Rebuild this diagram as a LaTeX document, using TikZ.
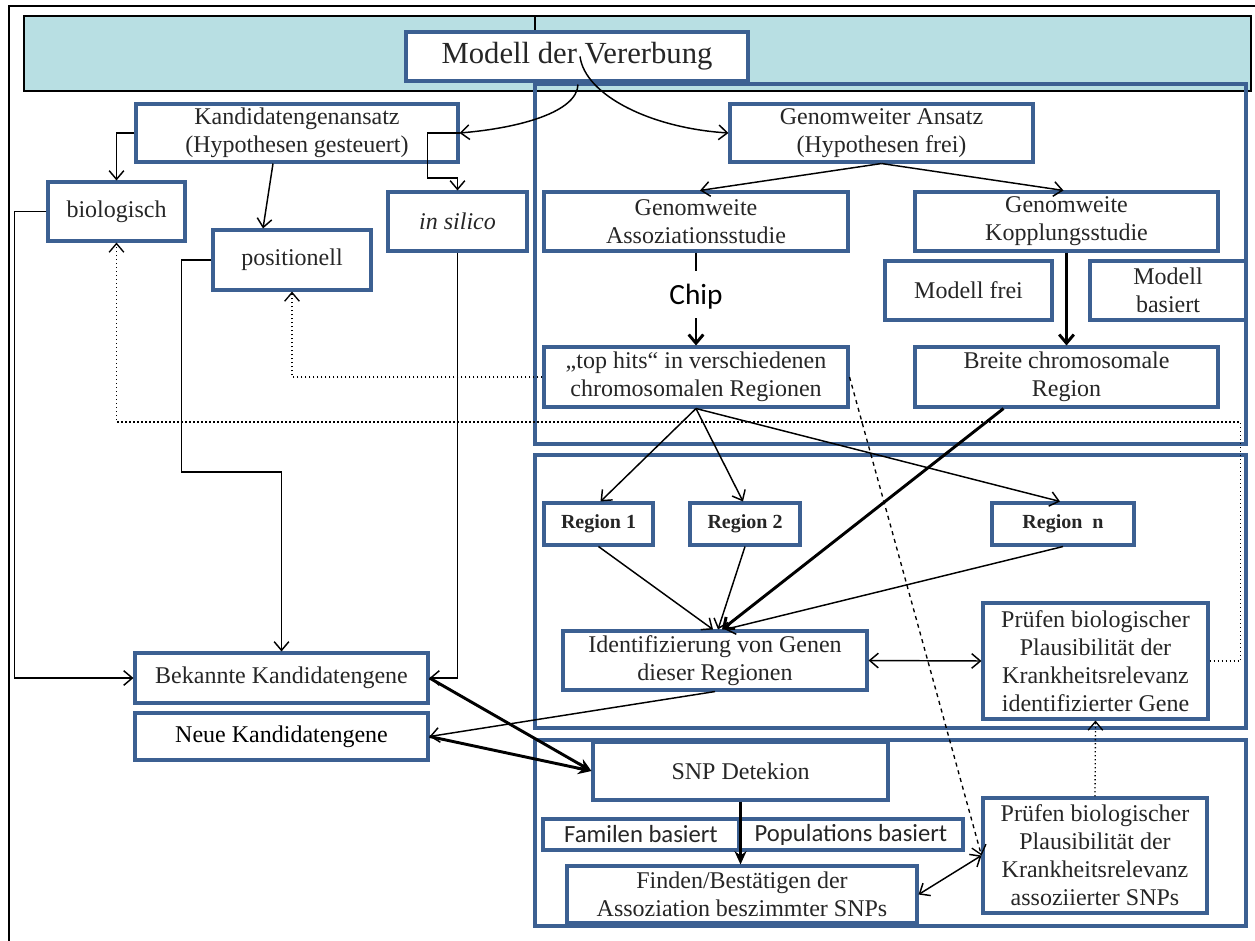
\documentclass[tikz,border=0pt]{standalone}
\usepackage{fontspec}
\setmainfont{Liberation Serif}
\newfontfamily\calibfont{Carlito}
\usetikzlibrary{arrows.meta,calc}
\definecolor{boxblue}{RGB}{60,96,146}
\definecolor{bandteal}{RGB}{184,223,227}
\definecolor{txt}{RGB}{38,38,38}

% box by its corners: [style]{name}{x1}{y1}{x2}{y2}{text}
\newcommand\placebox[7][]{%
  \node[nbox,#1,minimum width={(#5-#3)*0.75pt},minimum height={(#6-#4)*0.75pt}]
    (#2) at ({(#3+#5)/2},{(#4+#6)/2}) {#7};}

\begin{document}
\begin{tikzpicture}[x=0.75pt,y=-0.75pt,
  nbox/.style={draw=boxblue, line width=2.3pt, fill=white, inner sep=0pt,
    align=center, text=txt, font=\fontsize{18}{21}\selectfont},
  regionbox/.style={nbox, font=\bfseries\fontsize{15}{18}\selectfont},
  sansbox/.style={nbox, font=\calibfont\fontsize{18.5}{21}\selectfont},
  titlebox/.style={nbox, font=\fontsize{23}{27}\selectfont},
  container/.style={draw=boxblue, line width=2.3pt},
  >={Straight Barb[length=6.5pt,width=11pt]},
  link/.style={line width=1.1pt},
  heavy/.style={line width=2.2pt},
  heavyfill/.style={line width=2.2pt, -{Stealth[length=10pt,width=9pt]}},
  dotlink/.style={line width=1pt, dotted},
  dashlink/.style={line width=1pt, dashed},
]
\useasboundingbox (0,0) rectangle (1255,941);

% outer frame (top and left edges)
\draw[line width=2.2pt] (9,941) -- (9,6) -- (1255,6);

% title band
\draw[fill=bandteal, line width=0.8pt] (24,16) rectangle (1251,91);
\draw[line width=0.8pt] (535,16) -- (535,84);

% group frames
\draw[container] (535,84) rectangle (1246,444);
\draw[container] (535,455) rectangle (1246,728);
\draw[container] (535,740) rectangle (1246,926);

% nodes
\placebox[titlebox]{M}{406}{32}{748}{81}{Modell der Vererbung}
\placebox{K}{136}{104}{458}{162}{Kandidatengenansatz\\(Hypothesen gesteuert)}
\placebox{G}{730}{104}{1033}{162}{Genomweiter Ansatz\\(Hypothesen frei)}
\placebox{B}{48}{182}{185}{241}{biologisch}
\placebox{P}{213}{230}{371}{290}{positionell}
\placebox{S}{388}{192}{527}{251}{\itshape in silico}
\placebox{AS}{544}{192}{848}{251}{Genomweite\\Assoziationsstudie}
\placebox{KS}{915}{192}{1218}{251}{Genomweite\\Kopplungsstudie}
\placebox{MF}{885}{261}{1052}{320}{Modell frei}
\placebox{MB}{1090}{261}{1246}{320}{Modell\\basiert}
\placebox{TH}{544}{347}{848}{407}{„top hits“ in verschiedenen\\chromosomalen Regionen}
\placebox{BR}{915}{347}{1218}{407}{Breite chromosomale\\Region}
\placebox[regionbox]{R1}{544}{503}{653}{545}{Region 1}
\placebox[regionbox]{R2}{690}{503}{800}{545}{Region 2}
\placebox[regionbox]{RN}{992}{503}{1134}{545}{Region\ \ n}
\placebox{ID}{563}{631}{867}{690}{Identifizierung von Genen\\dieser Regionen}
\placebox{PG}{983}{603}{1208}{719}{Prüfen biologischer\\Plausibilität der\\Krankheitsrelevanz\\identifizierter Gene}
\placebox{BK}{135}{653}{428}{703}{Bekannte Kandidatengene}
\placebox[text=black]{NK}{135}{713}{428}{760}{Neue Kandidatengene}
\placebox{SNP}{593}{742}{888}{800}{SNP Detekion}
\placebox[sansbox]{FB}{543}{819}{739}{850}{Familen basiert}
\placebox[sansbox]{PB}{739}{819}{963}{850}{Populations basiert}
\placebox{FI}{567}{866}{917}{923}{Finden/Bestätigen der\\Assoziation beszimmter SNPs}
\placebox{PS}{983}{798}{1207}{913}{Prüfen biologischer\\Plausibilität der\\Krankheitsrelevanz\\assoziierter SNPs}
\node[text=black, font=\calibfont\fontsize{22}{26}\selectfont] (chip) at (696,297) {Chip};

% connectors from the model of inheritance
\draw[link,->] ($(M.south)+(1,2)$) .. controls (577,112) and (520,128) .. (K.east);
\draw[link,->] ($(M.center)+(3,0)$) .. controls (585,95) and (650,128) .. (G.west);

% candidate gene approach
\draw[link,->] (K.west) -| (B.north);
\draw[link,->] ($(K.south)+(-24,0)$) -- ($(P.north)+(-29,0)$);
\draw[link,->] (K.east) -- ++(-32,0) -- ++(0,45) -| (S.north);
\draw[link,->] (B.west) -- ++(-32,0) |- (BK.west);
\draw[link,->] (P.west) -- ++(-30,0) -- ++(0,212) -| (BK.north);
\draw[link,->] (S.south) |- (BK.east);

% genome-wide approach
\draw[link,->] (G.south) -- ($(AS.north)+(4,0)$);
\draw[link,->] (G.south) -- ($(KS.north)+(-3,0)$);
\draw[heavy] (AS.south) -- ++(0,18);
\draw[heavy,->] ($(TH.north)+(0,-27)$) -- (TH.north);
\draw[heavy,->] (KS.south) -- (BR.north);

% regions
\draw[link,->] (TH.south) -- ($(R1.north)+(2,0)$);
\draw[link,->] (TH.south) -- ($(R2.north)+(-2,0)$);
\draw[link,->] (TH.south) -- ($(RN.north)+(-3,0)$);
\draw[link,->] (R1.south) -- ($(ID.north)+(-2,0)$);
\draw[link,->] (R2.south) -- ($(ID.north)+(3,0)$);
\draw[link,->] (RN.south) -- ($(ID.north)+(10,0)$);
\draw[heavy,->] ($(BR.south)+(-63,0)$) -- ($(ID.north)+(7,0)$);
\draw[link,<->] (ID.east) -- (PG.west);
\draw[link,->] (ID.south) -- (NK.east);

% SNP detection
\draw[heavyfill] (BK.east) -- (SNP.west);
\draw[heavyfill] (NK.east) -- (SNP.west);
\draw[heavyfill] (SNP.south) -- (SNP.south |- FI.north);
\draw[link,<->] (FI.east) -- (PS.west);

% feedback paths
\draw[dotlink,->] (TH.west) -| (P.south);
\draw[dotlink,->] (PG.east) -- ++(31,0) -- ++(0,-239) -| (B.south);
\draw[dotlink,->] (PS.north) -- (PG.south);
\draw[dashlink,->] (TH.east) -- (PS.west);
\end{tikzpicture}
\end{document}
